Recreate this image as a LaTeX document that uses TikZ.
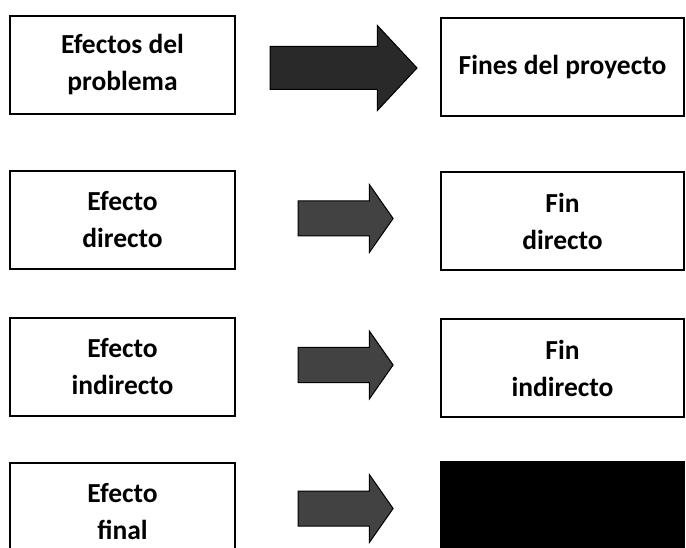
\documentclass[tikz,border=0pt]{standalone}
\usepackage{fontspec}
\setmainfont{Carlito}
\usetikzlibrary{shapes.arrows}

\begin{document}
\begin{tikzpicture}[x=1pt,y=-1pt,
  caja/.style={draw,line width=2pt,align=center,inner sep=0pt,
    font=\bfseries\fontsize{27.5}{37}\selectfont},
  izq/.style={caja,minimum width=225pt,minimum height=98pt},
  der/.style={caja,minimum width=243pt,minimum height=98pt},
  flecha/.style={single arrow,draw=black,line width=1pt,inner xsep=0pt,inner ysep=17pt,
    minimum height=95pt,minimum width=67pt,single arrow head extend=16.5pt,
    single arrow tip angle=110,fill=black!74}]
\useasboundingbox (0,0) rectangle (686,548);
\clip (0,0) rectangle (686,548);

\node [izq] (efectos) at (122.5,65) {Efectos del\\problema};
\node [der] (fines) at (562.5,67) {Fines del proyecto};
\node [flecha,minimum height=147pt,minimum width=84pt,inner ysep=21pt,
  single arrow head extend=21pt,single arrow tip angle=94,fill=black!84] (f1) at (333.5,68) {};

\node [izq] (efdir) at (122.5,220) {Efecto\\directo};
\node [der] (findir) at (562.5,221) {Fin\\directo};
\node [flecha] (f2) at (339.5,218.5) {};

\node [izq] (efind) at (122.5,367) {Efecto\\indirecto};
\node [der] (finind) at (562.5,368) {Fin\\indirecto};
\node [flecha] (f3) at (339.5,365) {};

\node [izq] (effin) at (122.5,512) {Efecto\\final};
\node [der,fill=black] (finfin) at (562.5,511) {};
\node [flecha] (f4) at (339.5,508.5) {};
\end{tikzpicture}
\end{document}
